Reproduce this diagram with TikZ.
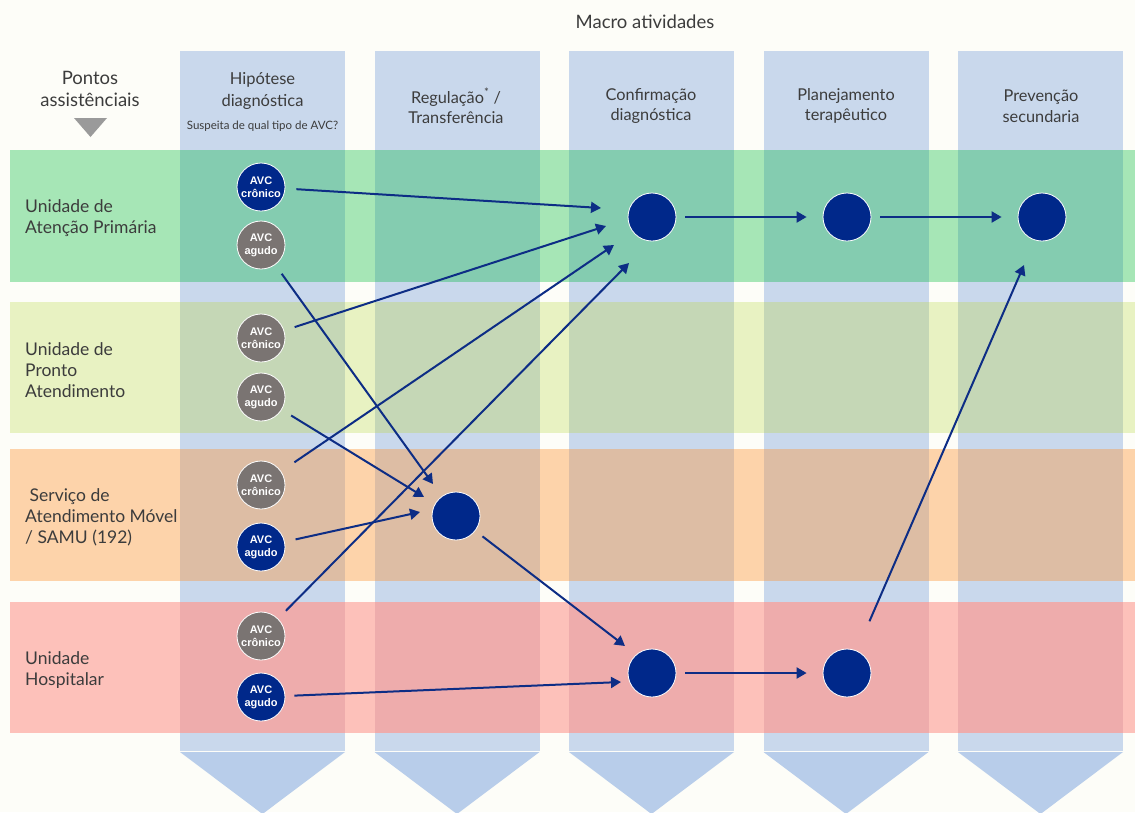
\documentclass[tikz,border=0pt]{standalone}
\usepackage{fontspec}
\setmainfont{Lato}
\newfontfamily\circfont{Liberation Sans}
\usetikzlibrary{arrows.meta}
\definecolor{bg}{HTML}{FDFDF8}
\definecolor{colc}{HTML}{C9D8EC}
\definecolor{chev}{HTML}{B8CDEA}
\definecolor{gA}{HTML}{A6E6B6}
\definecolor{gB}{HTML}{84CCB0}
\definecolor{yA}{HTML}{E8F2C2}
\definecolor{yB}{HTML}{C5D7B6}
\definecolor{oA}{HTML}{FDD3AA}
\definecolor{oB}{HTML}{DDBDA4}
\definecolor{pA}{HTML}{FDC1BA}
\definecolor{pB}{HTML}{EEACAC}
\definecolor{cblue}{HTML}{00288A}
\definecolor{cgray}{HTML}{7A7472}
\definecolor{carrow}{HTML}{0D2D85}
\definecolor{txt}{HTML}{3C3C3C}
\definecolor{tri}{HTML}{9A9A9A}
\tikzset{
  small/.style={circle, minimum size=48pt, inner sep=0pt, draw=white, line width=0.8pt,
    text=white, align=center, font=\circfont\bfseries\fontsize{11}{13}\selectfont},
  sblue/.style={small, fill=cblue},
  sgray/.style={small, fill=cgray},
  big/.style={circle, minimum size=48pt, inner sep=0pt, fill=cblue, draw=white, line width=0.8pt},
  arr/.style={draw=carrow, line width=2pt, -{Triangle[length=10pt,width=11pt]}, shorten <=11pt},
  rowlab/.style={anchor=west, inner sep=0pt, align=left, text=txt, font=\fontsize{17.5}{21}\selectfont},
  colhead/.style={inner sep=0pt, align=center, text=txt, font=\fontsize{16.3}{20.5}\selectfont},
}
\begin{document}
\begin{tikzpicture}[x=1pt,y=-1pt]
\useasboundingbox (0,0) rectangle (1135,812);
\fill[bg] (0,0) rectangle (1135,812);
% columns
\foreach \x in {180,374.5,569,763.5,958}{
  \fill[colc] (\x,51) rectangle ++(165,700);
  \fill[chev] (\x,752) -- ++(165,0) -- ++(-82.5,62) -- cycle;
}
% bands
\foreach \y/\h/\c/\o in {150/132/gA/gB,302/131/yA/yB,449/132/oA/oB,602/131/pA/pB}{
  \fill[\c] (10,\y) rectangle (1135,{\y+\h});
  \foreach \x in {180,374.5,569,763.5,958}{
    \fill[\o] (\x,\y) rectangle ++(165,\h);
  }
}
% titles
\node[inner sep=0pt, text=txt, font=\fontsize{18.5}{22}\selectfont] (macro) at (645,22) {Macro atividades};
\node[inner sep=0pt, align=center, text=txt, font=\fontsize{18.5}{22}\selectfont] (pontos) at (90,89) {Pontos\\assistênciais};
\fill[tri] (74,118) -- (107,118) -- (90.5,137) -- cycle;
\node[inner sep=0pt, align=center, text=txt, font=\fontsize{16.5}{22}\selectfont] (h1) at (262.5,91) {Hipótese\\diagnóstica};
\node[inner sep=0pt, text=txt, font=\fontsize{11.5}{13}\selectfont] (h1s) at (262.5,126) {Suspeita de qual tipo de AVC?};
\node[colhead] (h2) at (456,106) {Regulação\textsuperscript{*} /\\Transferência};
\node[colhead] (h3) at (651,106) {Confirmação\\diagnóstica};
\node[colhead] (h4) at (846,106) {Planejamento\\terapêutico};
\node[colhead] (h5) at (1041,106) {Prevenção\\secundaria};
% row labels
\node[rowlab] (l1) at (25,218) {Unidade de\\Atenção Primária};
\node[rowlab] (l2) at (25,370) {Unidade de\\Pronto\\Atendimento};
\node[rowlab] (l3) at (25,517) {\ Serviço de\\Atendimento Móvel\\/ SAMU (192)};
\node[rowlab] (l4) at (25,670) {Unidade\\Hospitalar};
% small circles
\node[sblue] (r1c) at (261,187) {AVC\\crônico};
\node[sgray] (r1a) at (261,245) {AVC\\agudo};
\node[sgray] (r2c) at (261,338) {AVC\\crônico};
\node[sgray] (r2a) at (261,397) {AVC\\agudo};
\node[sgray] (r3c) at (261,485) {AVC\\crônico};
\node[sblue] (r3a) at (261,547) {AVC\\agudo};
\node[sgray] (r4c) at (261,636) {AVC\\crônico};
\node[sblue] (r4a) at (261,697) {AVC\\agudo};
% big circles
\node[big] (c1) at (652,217) {};
\node[big] (c2) at (847,217) {};
\node[big] (c3) at (1042,217) {};
\node[big] (b3) at (456,516) {};
\node[big] (d1) at (652,673) {};
\node[big] (d2) at (847,673) {};
% arrow tip coordinates
\coordinate (e1) at (601,208);
\coordinate (e2) at (606,226);
\coordinate (e3) at (614,245);
\coordinate (e4) at (629,263);
\coordinate (f1) at (433,484);
\coordinate (f2) at (424,497);
\coordinate (f3) at (420,512);
\coordinate (g1) at (625,646);
\coordinate (g2) at (621,682);
\coordinate (hh) at (1024,265);
% arrows
\draw[arr] (r1c) -- (e1);
\draw[arr] (r2c) -- (e2);
\draw[arr, shorten <=16pt] (r3c) -- (e3);
\draw[arr] (r4c) -- (e4);
\draw[arr] (r1a) -- (f1);
\draw[arr] (r2a) -- (f2);
\draw[arr] (r3a) -- (f3);
\draw[arr, shorten <=9pt] (b3) -- (g1);
\draw[arr, shorten <=9pt] (r4a) -- (g2);
\draw[arr, shorten <=9pt, shorten >=16pt] (c1) -- (c2);
\draw[arr, shorten <=9pt, shorten >=16pt] (c2) -- (c3);
\draw[arr, shorten <=9pt, shorten >=16pt] (d1) -- (d2);
\draw[arr, shorten <=32pt] (d2) -- (hh);
\end{tikzpicture}
\end{document}
